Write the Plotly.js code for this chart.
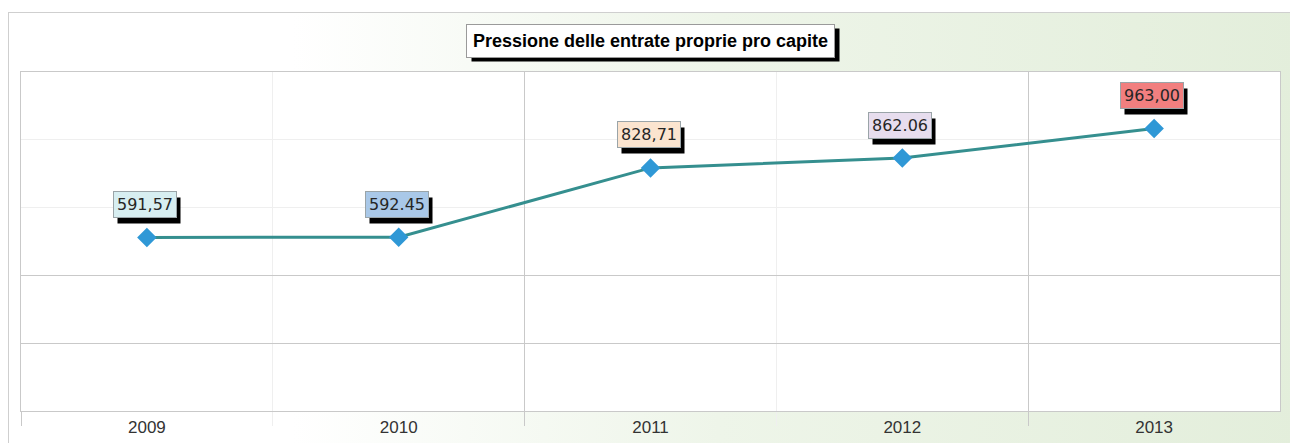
<!DOCTYPE html>
<html>
<head>
<meta charset="utf-8">
<script src="https://cdn.plot.ly/plotly-3.0.1.min.js"></script>
<style>
  html, body { margin: 0; padding: 0; background: #ffffff; }
  #wrap { position: relative; width: 1290px; height: 443px; overflow: hidden; }
  #bg { position: absolute; left: 8px; top: 12px; width: 1290px; height: 440px;
        border-left: 1px solid #cfcfcf; border-top: 1px solid #cfcfcf;
        background: linear-gradient(to right, #ffffff 0%, #ffffff 22%, #eef5e9 55%, #e3eedb 100%); }
  #chart { position: absolute; left: 0; top: 0; width: 1290px; height: 443px; }
</style>
</head>
<body>
<div id="wrap">
  <div id="bg"></div>
  <div id="chart"></div>
</div>
<script>
// ---- data ----
const years = ["2009", "2010", "2011", "2012", "2013"];
const values = [591.57, 592.45, 828.71, 862.06, 963.00];
const labels = ["591,57", "592.45", "828,71", "862.06", "963,00"];
const labelColors = ["#d7eef1", "#a9c8e8", "#fbe4cf", "#e7ddee", "#f27f7f"];
const chartTitle = "Pressione delle entrate proprie pro capite";

// ---- layout helpers ----
const idx = years.map((_, i) => i);
const yMax = 1155.6;
const yStep = yMax / 5;
const M = { l: 21, r: 10, t: 72, b: 32 };
const W = 1290, H = 443;

const trace = {
  x: idx,
  y: values,
  type: "scatter",
  mode: "lines+markers",
  line: { color: "#358f8f", width: 3 },
  marker: { symbol: "diamond", size: 15, color: "#2f98d6", line: { width: 0 } },
  hoverinfo: "skip",
  showlegend: false
};
const labelAxisTrace = {
  x: [], y: [], xaxis: "x2", yaxis: "y", type: "scatter", mode: "markers",
  hoverinfo: "skip", showlegend: false
};

const annotations = [];
const shadowOffsets = [];
annotations.push({
  xref: "paper", yref: "paper", x: 0.5, y: 1.0914, xanchor: "center", yanchor: "middle",
  showarrow: false,
  text: "<b>" + chartTitle + "</b>",
  font: { family: "Liberation Sans, Arial, sans-serif", size: 18, color: "#000000" },
  bgcolor: "#ffffff", bordercolor: "#9a9a9a", borderwidth: 1, borderpad: 6
});
shadowOffsets.push([5, 4]);
idx.forEach(i => {
  annotations.push({
    xref: "x", yref: "y", x: i, y: values[i], xanchor: "center", yanchor: "middle",
    xshift: -2, yshift: 33, showarrow: false, text: labels[i],
    font: { family: "DejaVu Sans, Verdana, sans-serif", size: 16, color: "#262626" },
    bgcolor: labelColors[i], bordercolor: "#9aa4a8", borderwidth: 1, borderpad: 3
  });
  shadowOffsets.push([4, 6]);
});

const strong = "#c9c9c9";
const faint = "#efefef";

const layout = {
  width: W, height: H,
  margin: { l: M.l, r: M.r, t: M.t, b: M.b, pad: 0 },
  paper_bgcolor: "rgba(0,0,0,0)",
  plot_bgcolor: "#ffffff",
  showlegend: false,
  xaxis: {
    range: [-0.5, 4.5], fixedrange: true,
    tickmode: "array", tickvals: [-0.5, 1.5, 3.5], ticktext: ["", "", ""],
    ticks: "outside", ticklen: 14, tickwidth: 1, tickcolor: strong,
    showgrid: true, gridcolor: strong, gridwidth: 1,
    minor: { tickmode: "array", tickvals: [0.5, 2.5], ticks: "outside", ticklen: 14,
             tickcolor: faint, showgrid: true, gridcolor: faint, gridwidth: 1 },
    showline: true, linecolor: strong, linewidth: 1, mirror: true,
    zeroline: false
  },
  xaxis2: {
    overlaying: "x", anchor: "y", side: "bottom",
    range: [-0.5, 4.5], fixedrange: true,
    tickmode: "array", tickvals: idx, ticktext: years,
    ticks: "", showgrid: false, showline: false, zeroline: false,
    ticklabelstandoff: 4,
    tickfont: { family: "Liberation Sans, Arial, sans-serif", size: 17, color: "#333333" }
  },
  yaxis: {
    range: [0, yMax], fixedrange: true,
    tickmode: "array", tickvals: [yStep, 2 * yStep], showticklabels: false,
    ticks: "", showgrid: true, gridcolor: strong, gridwidth: 1,
    minor: { tickmode: "array", tickvals: [3 * yStep, 4 * yStep], ticks: "",
             showgrid: true, gridcolor: faint, gridwidth: 1 },
    showline: true, linecolor: strong, linewidth: 1, mirror: true,
    zeroline: false
  },
  annotations: annotations
};

const gd = document.getElementById("chart");
Plotly.newPlot(gd, [trace, labelAxisTrace], layout, { staticPlot: true, displayModeBar: false })
  .then(() => {
    // drop shadows behind each annotation box, measured from the rendered boxes
    const base = gd.getBoundingClientRect();
    const rects = gd.querySelectorAll("g.annotation rect.bg");
    const pw = W - M.l - M.r, ph = H - M.t - M.b;
    const shapes = [];
    rects.forEach((r, k) => {
      const b = r.getBoundingClientRect();
      const [dx, dy] = shadowOffsets[k] || [4, 6];
      const left = b.left - base.left + dx, right = b.right - base.left + dx;
      const top = b.top - base.top + dy, bottom = b.bottom - base.top + dy;
      shapes.push({
        type: "rect", xref: "paper", yref: "paper", layer: "above",
        x0: (left - M.l) / pw, x1: (right - M.l) / pw,
        y0: (H - M.b - bottom) / ph, y1: (H - M.b - top) / ph,
        fillcolor: "#000000", line: { width: 0 }
      });
    });
    return Plotly.relayout(gd, { shapes: shapes });
  });
</script>
</body>
</html>
